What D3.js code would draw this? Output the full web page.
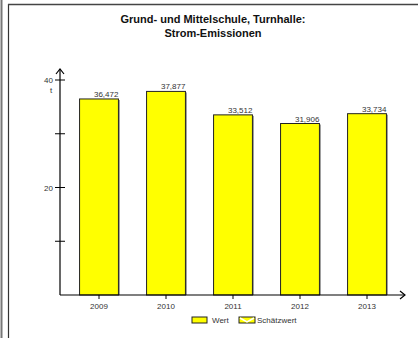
<!DOCTYPE html>
<html><head><meta charset="utf-8">
<script src="https://cdn.jsdelivr.net/npm/d3@7"></script>
<style>body{margin:0;background:#fff}svg{display:block;font-family:"Liberation Sans",Arial,sans-serif}</style>
</head><body>
<script>
const categories = ["2009","2010","2011","2012","2013"];
const values = [36.472, 37.877, 33.512, 31.906, 33.734];
const valueLabels = ["36,472","37,877","33,512","31,906","33,734"];
const yTicks = [10, 20, 30, 40];
const yTickLabels = {20:"20", 40:"40"};
const titleLines = ["Grund- und Mittelschule, Turnhalle:", "Strom-Emissionen"];
const legendItems = ["Wert", "Schätzwert"];

const W = 418, H = 338;
const svg = d3.select("body").append("svg").attr("width", W).attr("height", H);

// frame
svg.append("line").attr("x1",1.5).attr("x2",1.5).attr("y1",0).attr("y2",H).attr("stroke","#777").attr("stroke-width",2);
svg.append("line").attr("x1",8.5).attr("x2",8.5).attr("y1",4).attr("y2",H).attr("stroke","#333").attr("stroke-width",1.2);
svg.append("line").attr("x1",8).attr("x2",W).attr("y1",4.5).attr("y2",4.5).attr("stroke","#444").attr("stroke-width",1.5);

// title
svg.append("g").selectAll("text").data(titleLines).join("text")
  .attr("x", 213).attr("y", (d,i)=>23 + i*14)
  .attr("text-anchor","middle").attr("font-size",11).attr("font-weight","bold").attr("fill","#111")
  .text(d=>d);

const y = d3.scaleLinear().domain([0,40]).range([295,80]);
const x = d3.scaleBand().domain(categories).range([65.5,400.5]).paddingInner(0.42).paddingOuter(0.21);
const axisX = 60;

// bars
const bars = svg.append("g");
bars.selectAll("line.sh").data(values).join("line")
  .attr("x1",(d,i)=>x(categories[i])+x.bandwidth()+1).attr("x2",(d,i)=>x(categories[i])+x.bandwidth()+1)
  .attr("y1",d=>y(d)+1).attr("y2",y(0)).attr("stroke","#999").attr("stroke-width",1);
bars.selectAll("rect").data(values).join("rect")
  .attr("x",(d,i)=>x(categories[i])).attr("width",x.bandwidth())
  .attr("y",d=>y(d)).attr("height",d=>y(0)-y(d))
  .attr("fill","#ffff00").attr("stroke","#222").attr("stroke-width",1);
bars.selectAll("text").data(values).join("text")
  .attr("x",(d,i)=>x(categories[i])+x.bandwidth()).attr("y",d=>y(d)-2)
  .attr("text-anchor","end").attr("font-size",8).attr("fill","#333")
  .text((d,i)=>valueLabels[i]);

// y axis
const yAxis = svg.append("g");
yAxis.append("line").attr("x1",axisX).attr("x2",axisX).attr("y1",y(0)).attr("y2",69).attr("stroke","#000").attr("stroke-width",1.2);
yAxis.append("path").attr("d",`M${axisX-4},${74} L${axisX},${69} L${axisX+4},${74}`).attr("fill","none").attr("stroke","#000").attr("stroke-width",1.2);
yAxis.selectAll("line.t").data(yTicks).join("line").attr("class","t")
  .attr("x1",axisX-5).attr("x2",axisX+5).attr("y1",d=>y(d)).attr("y2",d=>y(d)).attr("stroke","#000").attr("stroke-width",1);
yAxis.selectAll("text").data(yTicks.filter(d=>yTickLabels[d])).join("text")
  .attr("x",axisX-7).attr("y",d=>y(d)+3).attr("text-anchor","end").attr("font-size",8).attr("fill","#333")
  .text(d=>yTickLabels[d]);
yAxis.append("text").attr("x",axisX-9).attr("y",y(40)+13).attr("text-anchor","middle").attr("font-size",8).attr("fill","#333").text("t");

// x axis
const xAxis = svg.append("g");
xAxis.append("line").attr("x1",axisX).attr("x2",405).attr("y1",y(0)).attr("y2",y(0)).attr("stroke","#000").attr("stroke-width",1.2);
xAxis.append("path").attr("d",`M${400},${y(0)-4} L${405},${y(0)} L${400},${y(0)+4}`).attr("fill","none").attr("stroke","#000").attr("stroke-width",1.2);
xAxis.selectAll("line.t").data(categories).join("line").attr("class","t")
  .attr("x1",d=>x(d)+x.bandwidth()/2).attr("x2",d=>x(d)+x.bandwidth()/2)
  .attr("y1",y(0)).attr("y2",y(0)+4).attr("stroke","#000");
xAxis.selectAll("text").data(categories).join("text")
  .attr("x",d=>x(d)+x.bandwidth()/2).attr("y",y(0)+14).attr("text-anchor","middle").attr("font-size",8).attr("fill","#333")
  .text(d=>d);

// legend
const lg = svg.append("g");
lg.append("rect").attr("x",192).attr("y",317).attr("width",15).attr("height",6).attr("fill","#ffff00").attr("stroke","#222");
lg.append("text").attr("x",212).attr("y",323).attr("font-size",8).attr("fill","#333").text(legendItems[0]);
lg.append("rect").attr("x",239).attr("y",317).attr("width",16).attr("height",6).attr("fill","#ffff00").attr("stroke","#222");
lg.append("path").attr("d","M240,318 L247,322 L254,318").attr("fill","none").attr("stroke","#fff").attr("stroke-width",1.5);
lg.append("text").attr("x",257).attr("y",323).attr("font-size",8).attr("fill","#333").text(legendItems[1]);
</script>
</body></html>
